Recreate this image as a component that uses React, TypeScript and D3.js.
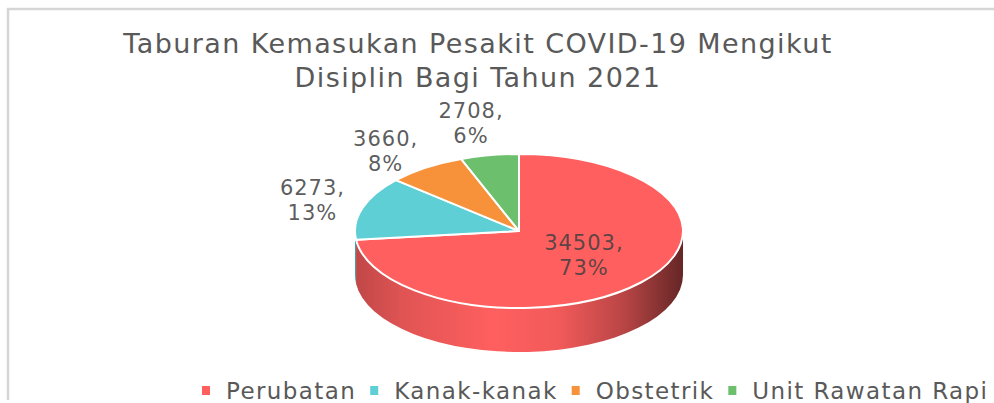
import React, { useEffect, useRef } from "react";
import * as d3 from "d3";

const width = 994;
const height = 403;

const categories = ["Perubatan", "Kanak-kanak", "Obstetrik", "Unit Rawatan Rapi"];
const values = [34503, 6273, 3660, 2708];
const percentLabels = ["73%", "13%", "8%", "6%"];
const colors = ["#FF5F5F", "#5ECFD4", "#F7923A", "#6CBF6C"];
const titleLines = ["Taburan Kemasukan Pesakit COVID-19 Mengikut", "Disiplin Bagi Tahun 2021"];

// pie ellipse (top face) and thickness
const cx = 519;
const cy = 231;
const rx = 164;
const ry = 77;
const depth = 44;
// label distance from the centre, as a factor of rx / ry
const labelFx = [0.53, 1.32, 1.43, 1.63];
const labelFy = [0.47, 1.35, 1.26, 1.43];

const font = "'DejaVu Sans', Verdana, sans-serif";

function pt(a: number, f = 1, dy = 0): [number, number] {
  return [cx + rx * f * Math.sin(a), cy - ry * f * Math.cos(a) + dy];
}

export default function App() {
  const ref = useRef<SVGSVGElement>(null);

  useEffect(() => {
    document.body.style.margin = "0";
    const svg = d3.select(ref.current);
    svg.selectAll("*").remove();

    // chart frame (only top and left edges visible)
    svg.append("rect").attr("width", width).attr("height", height).attr("fill", "#fff");
    svg.append("line").attr("x1", 7).attr("x2", width).attr("y1", 9).attr("y2", 9)
      .attr("stroke", "#d6d6d6").attr("stroke-width", 2.5);
    svg.append("line").attr("x1", 8).attr("x2", 8).attr("y1", 8).attr("y2", 400)
      .attr("stroke", "#d6d6d6").attr("stroke-width", 2.5);

    // title
    svg.append("g").selectAll("text").data(titleLines).enter().append("text")
      .attr("x", 478)
      .attr("y", (d, i) => 53 + i * 34)
      .attr("text-anchor", "middle")
      .attr("font-family", font)
      .attr("font-size", 27)
      .attr("letter-spacing", 1.4)
      .attr("fill", "#595959")
      .text((d) => d);

    const arcs = d3.pie<number>().sort(null).value((d) => d)(values);
    const defs = svg.append("defs");

    // side gradients
    colors.forEach((c, i) => {
      const base = d3.color(c)!;
      const g = defs.append("linearGradient").attr("id", "side" + i)
        .attr("gradientUnits", "userSpaceOnUse")
        .attr("x1", cx - rx).attr("x2", cx + rx).attr("y1", 0).attr("y2", 0);
      const stops: [number, string][] = [
        [0, base.darker(0.8).toString()],
        [0.15, base.darker(0.35).toString()],
        [0.42, base.toString()],
        [0.62, base.darker(0.15).toString()],
        [0.82, base.darker(0.9).toString()],
        [1, base.darker(2.6).toString()],
      ];
      stops.forEach(([o, col]) => g.append("stop").attr("offset", o).attr("stop-color", col));
    });

    // sides (front half only)
    const sides = svg.append("g");
    arcs.forEach((a, i) => {
      const lo = Math.max(a.startAngle, Math.PI / 2);
      const hi = Math.min(a.endAngle, (3 * Math.PI) / 2);
      if (lo >= hi) return;
      const t0 = pt(lo), t1 = pt(hi), b0 = pt(lo, 1, depth), b1 = pt(hi, 1, depth);
      sides.append("path")
        .attr("d", `M${t0}A${rx},${ry} 0 0 1 ${t1}L${b1}A${rx},${ry} 0 0 0 ${b0}Z`)
        .attr("fill", `url(#side${i})`);
    });

    // top faces
    svg.append("g").selectAll("path").data(arcs).enter().append("path")
      .attr("d", (a) => {
        const p0 = pt(a.startAngle), p1 = pt(a.endAngle);
        const large = a.endAngle - a.startAngle > Math.PI ? 1 : 0;
        return `M${cx},${cy}L${p0}A${rx},${ry} 0 ${large} 1 ${p1}Z`;
      })
      .attr("fill", (a, i) => colors[i])
      .attr("stroke", "#fff")
      .attr("stroke-width", 2)
      .attr("stroke-linejoin", "round");

    // data labels
    const labels = svg.append("g").selectAll("text").data(arcs).enter().append("text")
      .attr("font-family", font)
      .attr("font-size", 21)
      .attr("letter-spacing", 1)
      .attr("fill", "#404040")
      .attr("fill-opacity", 0.85)
      .attr("text-anchor", "middle")
      .attr("transform", (a, i) => {
        const m = (a.startAngle + a.endAngle) / 2;
        const x = cx + rx * labelFx[i] * Math.sin(m);
        const y = cy - ry * labelFy[i] * Math.cos(m);
        return `translate(${x},${y})`;
      });
    labels.append("tspan").attr("x", 0).attr("y", -5).text((a) => a.data + ",");
    labels.append("tspan").attr("x", 0).attr("y", 20).text((a, i) => percentLabels[i]);

    // legend
    const legend = svg.append("g").attr("font-family", font).attr("font-size", 23)
      .attr("letter-spacing", 1.4).attr("fill", "#595959");
    let x = 202;
    categories.forEach((name, i) => {
      legend.append("rect").attr("x", x).attr("y", 386).attr("width", 8).attr("height", 9)
        .attr("fill", colors[i]);
      const t = legend.append("text").attr("x", x + 24).attr("y", 399).text(name);
      const w = (t.node() as SVGTextElement).getComputedTextLength();
      x += 24 + w + 14;
    });
  }, []);

  return <svg ref={ref} width={width} height={height} style={{ display: "block" }} />;
}
